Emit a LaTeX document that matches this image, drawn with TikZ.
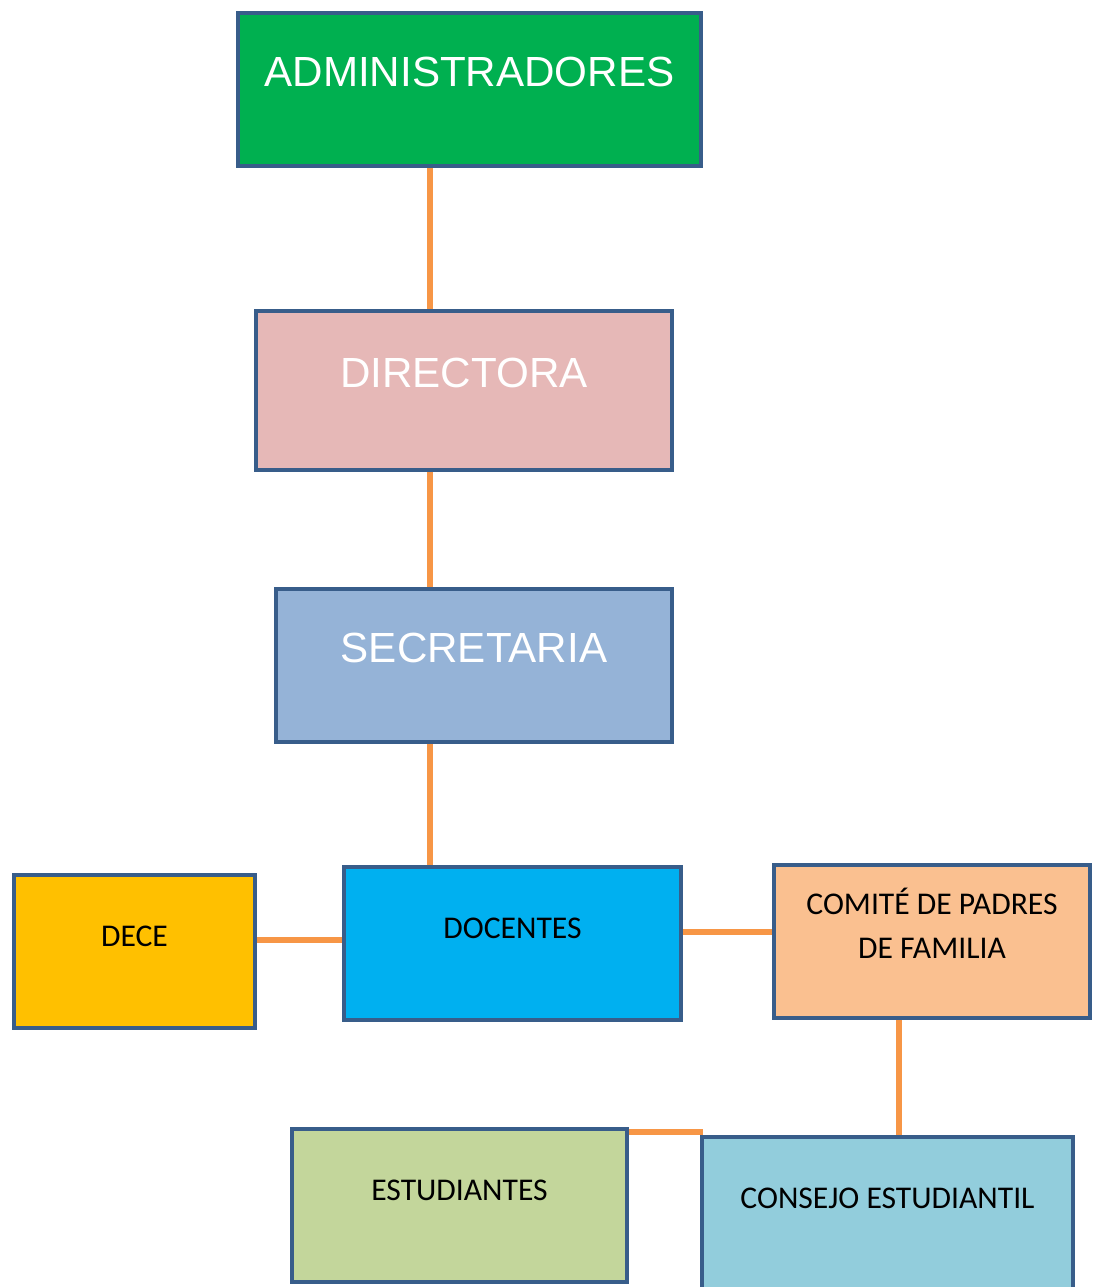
\documentclass[tikz,border=0pt]{standalone}
\usepackage{fontspec}
\setmainfont{Carlito}
\newfontfamily\arialfont{Liberation Sans}
\usetikzlibrary{backgrounds}

\definecolor{framec}{RGB}{56,93,138}
\definecolor{linkc}{RGB}{247,150,70}
\definecolor{admc}{RGB}{0,176,80}
\definecolor{dirc}{RGB}{230,184,183}
\definecolor{secc}{RGB}{149,179,215}
\definecolor{docc}{RGB}{0,176,240}
\definecolor{decec}{RGB}{255,192,0}
\definecolor{comc}{RGB}{250,192,144}
\definecolor{estc}{RGB}{195,214,155}
\definecolor{conc}{RGB}{146,205,220}

\begin{document}
\begin{tikzpicture}[x=0.02cm,y=-0.02cm,
  box/.style={draw=framec, line width=2.6pt, inner sep=0pt, minimum height=3.06cm},
  big/.style={yshift=0.35cm, inner sep=0pt, text=white, font=\arialfont\fontsize{24}{28}\selectfont},
  small/.style={yshift=0.31cm, inner sep=0pt, align=center, font=\fontsize{18}{25}\selectfont},
  link/.style={draw=linkc, line width=3pt}]
 \useasboundingbox (0,0) rectangle (1095,1287);

 \node[box, fill=admc, minimum width=9.26cm, label={[big]center:ADMINISTRADORES}] (admin) at (469.5,89.5) {};
 \node[box, fill=dirc, minimum width=8.32cm, minimum height=3.18cm, label={[big]center:DIRECTORA}] (dir) at (464,390.5) {};
 \node[box, fill=secc, minimum width=7.92cm, label={[big]center:SECRETARIA}] (sec) at (474,665.5) {};
 \node[box, fill=docc, minimum width=6.74cm, label={[small]center:DOCENTES}] (doc) at (512.5,943.5) {};
 \node[box, fill=decec, minimum width=4.82cm, label={[small]center:DECE}] (dece) at (134.5,951.5) {};
 \node[box, fill=comc, minimum width=6.32cm, label={[small, yshift=0.06cm]center:COMITÉ DE PADRES\\DE FAMILIA}] (com) at (932,941.5) {};
 \node[box, fill=estc, minimum width=6.7cm, label={[small]center:ESTUDIANTES}] (est) at (459.5,1205.5) {};
 \node[box, fill=conc, minimum width=7.42cm, label={[small]center:CONSEJO ESTUDIANTIL}] (con) at (887.5,1213.5) {};

 \coordinate (spine) at (430,0);
 \coordinate (r1) at (0,940);
 \coordinate (r2) at (0,932);
 \coordinate (c3) at (899,0);
 \coordinate (r4) at (0,1132);

 \begin{scope}[on background layer]
 \draw[link] (admin.south -| spine) -- (dir.north -| spine);
 \draw[link] (dir.south -| spine) -- (sec.north -| spine);
 \draw[link] (sec.south -| spine) -- (doc.north -| spine);
 \draw[link] (dece.east |- r1) -- (doc.west |- r1);
 \draw[link] (doc.east |- r2) -- (com.west |- r2);
 \draw[link] (com.south -| c3) -- (con.north -| c3);
 \draw[link] (est.east |- r4) -- ([xshift=0.06cm]con.west |- r4);
 \end{scope}

\end{tikzpicture}
\end{document}
